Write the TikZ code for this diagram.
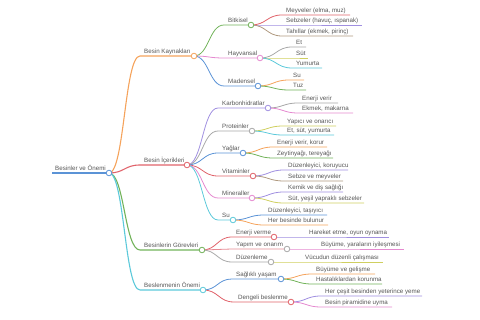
\documentclass[tikz,border=0pt]{standalone}
\usepackage{fontspec}
\setmainfont{Liberation Sans}
\usetikzlibrary{calc}
\pgfdeclarelayer{bg}
\pgfsetlayers{bg,main}
\definecolor{morange}{HTML}{F5A35C}
\definecolor{mred}{HTML}{E0626A}
\definecolor{mrose}{HTML}{E68A94}
\definecolor{mgreen}{HTML}{72B35A}
\definecolor{mcyan}{HTML}{5CC9DA}
\definecolor{mpink}{HTML}{E58AD0}
\definecolor{mblue}{HTML}{5B93D6}
\definecolor{mpurple}{HTML}{A08FE0}
\definecolor{mgray}{HTML}{A8A8A8}
\definecolor{molive}{HTML}{CFCF60}
\definecolor{mbrown}{HTML}{B09A80}
\definecolor{mtext}{HTML}{555555}
\tikzset{
  lbl/.style={anchor=base west, inner sep=0pt, text=mtext, font=\fontsize{6.2}{7}\selectfont},
  dot/.style={circle, fill=white, line width=0.8pt, minimum size=5.6pt, inner sep=0pt},
}
% name, parent, xs, y, xe, colour, text, width
\newcommand\mmbranch[8]{%
  \coordinate (#1-s) at (#3,#4);
  \coordinate (#1-c) at (#5,#4);
  \coordinate (#1-m) at ($(#2-c)!0.5!(#1-s)$);
  \begin{pgfonlayer}{bg}
    \draw[#6, line width=#8] (#2-c) .. controls (#1-m |- #2-c) and (#1-m |- #1-s) .. (#1-s) -- (#1-c);
  \end{pgfonlayer}
  \node[lbl] (#1) at ($(#1-s)+(4,-2.6)$) {#7};
}
\newcommand\mmdot[2]{\node[dot, draw=#2] (#1-o) at (#1-c) {};}
\begin{document}
\begin{tikzpicture}[x=1pt,y=-1pt]
\useasboundingbox (0,0) rectangle (480,320);
% root
\coordinate (root-s) at (52,173);
\coordinate (root-c) at (109,173);
\begin{pgfonlayer}{bg}
\draw[mblue, line width=1.4pt] (root-s) -- (root-c);
\end{pgfonlayer}
\node[lbl] (root) at (55,170.4) {Besinler ve Önemi};

% level 1
\mmbranch{bk}{root}{140}{56}{194}{morange}{Besin Kaynakları}{1.1pt}
\mmbranch{bi}{root}{140}{165}{187}{mred}{Besin İçerikleri}{1.1pt}
\mmbranch{bg}{root}{140}{250}{202}{mgreen}{Besinlerin Görevleri}{1.1pt}
\mmbranch{bo}{root}{140}{290}{203}{mcyan}{Beslenmenin Önemi}{1.1pt}

% Besin Kaynaklari
\mmbranch{bit}{bk}{224}{25}{251}{mgreen}{Bitkisel}{0.8pt}
\mmbranch{hay}{bk}{224}{58}{260}{mpink}{Hayvansal}{0.8pt}
\mmbranch{mad}{bk}{224}{86}{258}{mblue}{Madensel}{0.8pt}

\mmbranch{mey}{bit}{282}{15}{350}{mred}{Meyveler (elma, muz)}{0.8pt}
\mmbranch{seb}{bit}{282}{25}{362}{mpurple}{Sebzeler (havuç, ıspanak)}{0.8pt}
\mmbranch{tah}{bit}{282}{36}{353}{mbrown}{Tahıllar (ekmek, pirinç)}{0.8pt}

\mmbranch{et}{hay}{292}{47}{306}{mgray}{Et}{0.8pt}
\mmbranch{sut}{hay}{292}{58}{308}{molive}{Süt}{0.8pt}
\mmbranch{yum}{hay}{292}{68}{322}{mcyan}{Yumurta}{0.8pt}

\mmbranch{su}{mad}{289}{80}{304}{morange}{Su}{0.8pt}
\mmbranch{tuz}{mad}{289}{90}{306}{mgreen}{Tuz}{0.8pt}

% Besin Icerikleri
\mmbranch{kar}{bi}{218}{108}{268}{mpurple}{Karbonhidratlar}{0.8pt}
\mmbranch{pro}{bi}{218}{131}{252}{mgray}{Proteinler}{0.8pt}
\mmbranch{yag}{bi}{218}{153}{243}{mblue}{Yağlar}{0.8pt}
\mmbranch{vit}{bi}{218}{176}{253}{mred}{Vitaminler}{0.8pt}
\mmbranch{min}{bi}{218}{198}{252}{mpink}{Mineraller}{0.8pt}
\mmbranch{isu}{bi}{218}{220}{233}{mcyan}{Su}{0.8pt}

\mmbranch{kar1}{kar}{298}{103}{338}{mgray}{Enerji verir}{0.8pt}
\mmbranch{kar2}{kar}{298}{113}{353}{mpink}{Ekmek, makarna}{0.8pt}
\mmbranch{pro1}{pro}{283}{126}{336}{molive}{Yapıcı ve onarıcı}{0.8pt}
\mmbranch{pro2}{pro}{283}{135}{334}{mcyan}{Et, süt, yumurta}{0.8pt}
\mmbranch{yag1}{yag}{273}{147}{327}{morange}{Enerji verir, korur}{0.8pt}
\mmbranch{yag2}{yag}{273}{158}{333}{mgreen}{Zeytinyağı, tereyağı}{0.8pt}
\mmbranch{vit1}{vit}{284}{170}{348}{mpurple}{Düzenleyici, koruyucu}{0.8pt}
\mmbranch{vit2}{vit}{284}{181}{343}{mbrown}{Sebze ve meyveler}{0.8pt}
\mmbranch{min1}{min}{284}{192}{343}{mpurple}{Kemik ve diş sağlığı}{0.8pt}
\mmbranch{min2}{min}{284}{203}{364}{molive}{Süt, yeşil yapraklı sebzeler}{0.8pt}
\mmbranch{su1}{isu}{264}{215}{327}{mblue}{Düzenleyici, taşıyıcı}{0.8pt}
\mmbranch{su2}{isu}{264}{225}{328}{morange}{Her besinde bulunur}{0.8pt}

% Besinlerin Gorevleri
\mmbranch{gen}{bg}{232}{237}{274}{mred}{Enerji verme}{0.8pt}
\mmbranch{gya}{bg}{232}{249}{287}{mrose}{Yapım ve onarım}{0.8pt}
\mmbranch{gdu}{bg}{232}{262}{271}{mgray}{Düzenleme}{0.8pt}

\mmbranch{gen1}{gen}{305}{237}{389}{mpurple}{Hareket etme, oyun oynama}{0.8pt}
\mmbranch{gya1}{gya}{317}{249}{404}{mpink}{Büyüme, yaraların iyileşmesi}{0.8pt}
\mmbranch{gdu1}{gdu}{301}{262}{383}{molive}{Vücudun düzenli çalışması}{0.8pt}

% Beslenmenin Onemi
\mmbranch{osa}{bo}{232}{279}{281}{mblue}{Sağlıklı yaşam}{0.8pt}
\mmbranch{ode}{bo}{234}{302}{291}{mred}{Dengeli beslenme}{0.8pt}

\mmbranch{osa1}{osa}{312}{274}{375}{morange}{Büyüme ve gelişme}{0.8pt}
\mmbranch{osa2}{osa}{312}{284}{382}{mgreen}{Hastalıklardan korunma}{0.8pt}
\mmbranch{ode1}{ode}{321}{296}{422}{mpurple}{Her çeşit besinden yeterince yeme}{0.8pt}
\mmbranch{ode2}{ode}{321}{307}{392}{mpink}{Besin piramidine uyma}{0.8pt}

% circles
\mmdot{root}{mblue}
\mmdot{bk}{morange}
\mmdot{bi}{mred}
\mmdot{bg}{mgreen}
\mmdot{bo}{mcyan}
\mmdot{bit}{mgreen}
\mmdot{hay}{mpink}
\mmdot{mad}{mblue}
\mmdot{kar}{mpurple}
\mmdot{pro}{mgray}
\mmdot{yag}{mblue}
\mmdot{vit}{mred}
\mmdot{min}{mpink}
\mmdot{isu}{mcyan}
\mmdot{gen}{mred}
\mmdot{gya}{mgray}
\mmdot{gdu}{mgray}
\mmdot{osa}{mblue}
\mmdot{ode}{mred}
\end{tikzpicture}
\end{document}
